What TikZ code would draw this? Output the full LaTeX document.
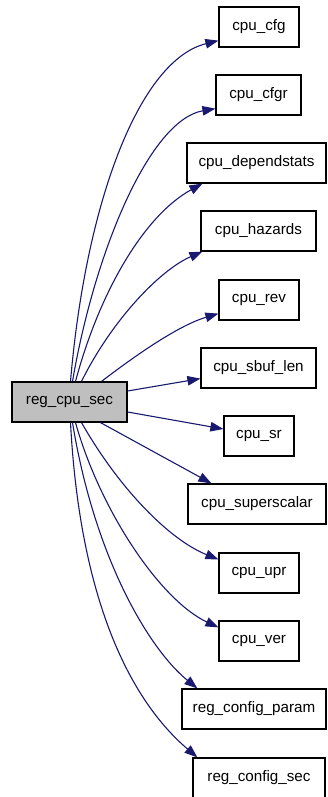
\documentclass[tikz,border=0pt]{standalone}
\usepackage{fontspec}
\setmainfont{Liberation Sans}
\usetikzlibrary{arrows.meta}
\definecolor{arco}{HTML}{191970}
\definecolor{grigio}{HTML}{BFBFBF}
\tikzset{
  fn/.style={draw, line width=1.2pt, minimum height=40pt, inner sep=0pt, font=\fontsize{15.2}{18}\selectfont},
  chiamata/.style={draw=arco, line width=1.1pt, -{Triangle[length=13pt,width=9.5pt]}},
}
\begin{document}
\begin{tikzpicture}[x=1pt, y=-1pt]
\useasboundingbox (0,0) rectangle (327,797);
% funzione chiamante
\node[fn, fill=grigio, minimum width=115pt] (src) at (69.5,402) {reg\_cpu\_sec};
% funzioni chiamate
\node[fn, minimum width=80pt] (cfg) at (259,27) {cpu\_cfg};
\node[fn, minimum width=85pt] (cfgr) at (258.5,95) {cpu\_cfgr};
\node[fn, minimum width=139pt] (deps) at (256.5,163) {cpu\_dependstats};
\node[fn, minimum width=115pt] (haz) at (258.5,231) {cpu\_hazards};
\node[fn, minimum width=80pt] (rev) at (259,300) {cpu\_rev};
\node[fn, minimum width=115pt] (sbuf) at (258.5,368) {cpu\_sbuf\_len};
\node[fn, minimum width=70pt] (sr) at (259,436) {cpu\_sr};
\node[fn, minimum width=138pt] (sup) at (257,504) {cpu\_superscalar};
\node[fn, minimum width=80pt] (upr) at (259,573) {cpu\_upr};
\node[fn, minimum width=80pt] (ver) at (259,641) {cpu\_ver};
\node[fn, minimum width=144pt] (param) at (254,709) {reg\_config\_param};
\node[fn, minimum width=132pt] (csec) at (259,778) {reg\_config\_sec};
% archi verso l'alto
\draw[chiamata] ([xshift=1pt]src.north) .. controls (86,200) and (140,60) .. ([yshift=7pt]cfg.south west);
\draw[chiamata] ([xshift=3pt]src.north) .. controls (95,250) and (150,120) .. ([yshift=7pt]cfgr.south west);
\draw[chiamata] ([xshift=6pt]src.north) .. controls (100,290) and (145,215) .. ([xshift=16pt]deps.south west);
\draw[chiamata] ([xshift=12pt]src.north) .. controls (112,320) and (160,270) .. ([xshift=2pt]haz.south west);
\draw[chiamata] ([xshift=32pt]src.north) .. controls (140,352) and (180,325) .. ([yshift=7pt]rev.south west);
% archi diritti
\draw[chiamata] ([yshift=11pt]src.east) -- ([yshift=10pt]sbuf.south west);
\draw[chiamata] ([yshift=-10pt]src.east) -- ([yshift=7pt]sr.west);
\draw[chiamata] ([xshift=31pt]src.south) -- ([xshift=24pt]sup.north west);
% archi verso il basso
\draw[chiamata] ([xshift=12pt]src.south) .. controls (120,490) and (170,540) .. ([yshift=-7pt]upr.north west);
\draw[chiamata] ([xshift=6pt]src.south) .. controls (100,510) and (160,600) .. ([yshift=-7pt]ver.north west);
\draw[chiamata] ([xshift=3pt]src.south) .. controls (95,560) and (150,650) .. ([xshift=16pt]param.north west);
\draw[chiamata] ([xshift=1pt]src.south) .. controls (80,600) and (130,700) .. ([xshift=5pt]csec.north west);
\end{tikzpicture}
\end{document}
